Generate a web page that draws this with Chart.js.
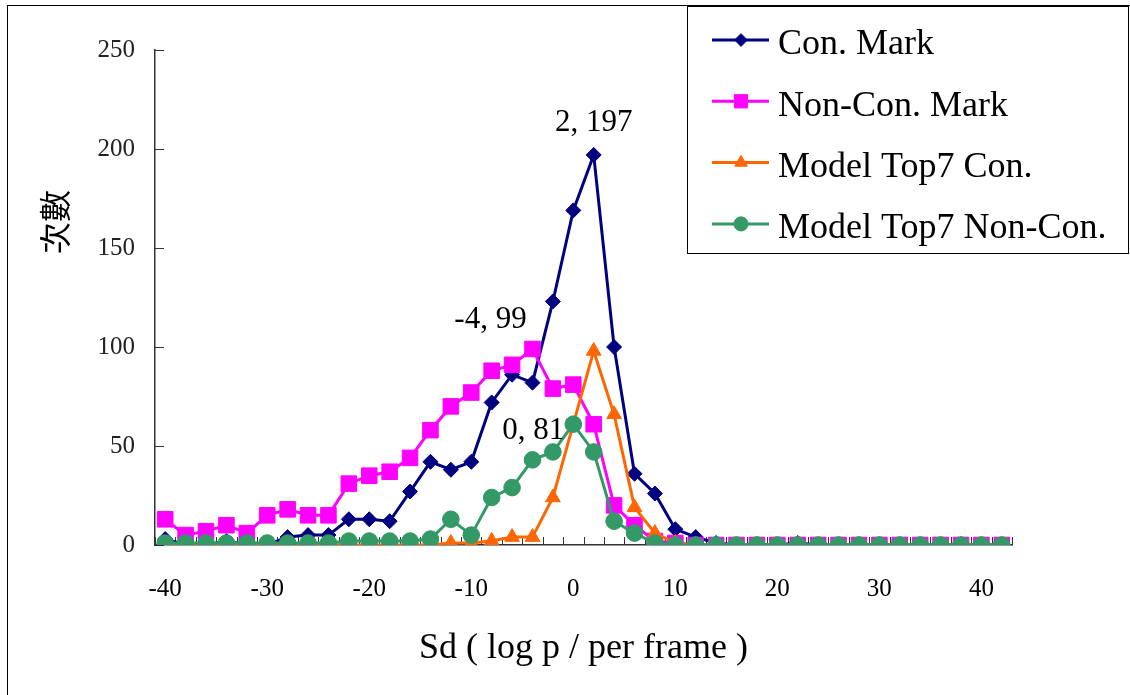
<!DOCTYPE html>
<html>
<head>
<meta charset="utf-8">
<script src="https://cdn.jsdelivr.net/npm/chart.js@4.4.1/dist/chart.umd.min.js"></script>
<style>
  html, body { margin: 0; padding: 0; background: #fff; }
</style>
</head>
<body>
<canvas id="chart" width="1130" height="695"></canvas>
<script>
// Sd bins (log p / per frame), step 2
const sd = [-40, -38, -36, -34, -32, -30, -28, -26, -24, -22, -20, -18, -16, -14, -12, -10,
  -8, -6, -4, -2, 0, 2, 4, 6, 8, 10, 12, 14, 16, 18, 20, 22, 24, 26, 28, 30, 32, 34, 36, 38, 40, 42];

const conMark = [3, 0, 0, 2, 0, 0, 4, 5, 5, 13, 13, 12, 27, 42, 38, 42,
  72, 86, 82, 123, 169, 197, 100, 36, 26, 8, 4, 1, 0, 0, 0, 1, 0, 0, 0, 0, 0, 0, 0, 0, 0, 0];
const nonConMark = [13, 5, 7, 10, 6, 15, 18, 15, 15, 31, 35, 37, 44, 58, 70, 77,
  88, 91, 99, 79, 81, 61, 20, 10, 2, 1, 0, 0, 0, 0, 0, 0, 0, 0, 0, 0, 0, 0, 0, 0, 0, 0];
const modelCon = [0, 0, 0, 0, 0, 0, 0, 0, 0, 0, 0, 0, 0, 0, 1, 1,
  2, 4, 4, 24, 61, 98, 66, 19, 6, 1, 0, 0, 0, 0, 0, 0, 0, 0, 0, 0, 0, 0, 0, 0, 0, 0];
const modelNonCon = [1, 1, 1, 1, 1, 1, 1, 1, 1, 2, 2, 2, 2, 3, 13, 5,
  24, 29, 43, 47, 61, 47, 12, 6, 1, 0, 0, 0, 0, 0, 0, 0, 0, 0, 0, 0, 0, 0, 0, 0, 0, 0];

const yTicks = [0, 50, 100, 150, 200, 250];
const xLabelEvery = 10;

const serif = '"Liberation Serif", "Times New Roman", serif';

function series(label, data, color, style, radius, order) {
  return {
    label, data, order,
    borderColor: color,
    backgroundColor: color,
    borderWidth: 3,
    pointStyle: style,
    pointRadius: radius,
    pointBorderWidth: 1,
    pointBackgroundColor: color,
    pointBorderColor: color,
    tension: 0
  };
}

// data labels "x, y" attached to points
const pointLabels = [
  { ds: 0, x: 2, dx: 0, dy: -32 },
  { ds: 1, x: -4, dx: -42, dy: -29 },
  { ds: 1, x: 0, dx: -40, dy: 46 }
];

const decorations = {
  id: 'decorations',
  beforeDraw(chart) {
    const ctx = chart.ctx;
    ctx.save();
    ctx.fillStyle = '#fff';
    ctx.fillRect(0, 0, chart.width, chart.height);
    ctx.restore();
  },
  beforeDatasetsDraw(chart) {
    const { ctx, chartArea: a, scales: { x, y } } = chart;
    ctx.save();
    ctx.strokeStyle = '#333';
    ctx.lineWidth = 1;
    ctx.beginPath();
    // x ticks between categories, pointing up into the plot
    for (let i = 0; i <= sd.length; i++) {
      const px = Math.round(x.getPixelForValue(i - 0.5)) + 0.5;
      ctx.moveTo(px, a.bottom);
      ctx.lineTo(px, a.bottom - 8);
    }
    // y ticks pointing right
    yTicks.forEach(v => {
      const py = Math.round(y.getPixelForValue(v)) + 0.5;
      ctx.moveTo(a.left, py);
      ctx.lineTo(a.left + 9, py);
    });
    ctx.stroke();
    ctx.restore();
  },
  afterDraw(chart) {
    const { ctx, scales: { x, y } } = chart;
    ctx.save();
    // outer frame
    ctx.strokeStyle = '#000';
    ctx.lineWidth = 1;
    ctx.strokeRect(7.5, 5.5, chart.width, chart.height);

    // y title
    ctx.fillStyle = '#000';
    ctx.font = '32px "Noto Sans CJK TC", "Noto Sans CJK SC", sans-serif';
    ctx.textAlign = 'center';
    ctx.textBaseline = 'middle';
    ctx.save();
    ctx.translate(55, 222);
    ctx.rotate(-Math.PI / 2);
    ctx.fillText('次數', 0, 0);
    ctx.restore();

    // point labels
    ctx.font = '31px ' + serif;
    pointLabels.forEach(l => {
      const i = sd.indexOf(l.x);
      const v = chart.data.datasets[l.ds].data[i];
      const px = x.getPixelForValue(i) + l.dx;
      const py = y.getPixelForValue(v) + l.dy;
      ctx.fillText(sd[i] + ', ' + v, px, py);
    });

    // legend box
    const box = { left: 687.5, top: 6.5, right: 1128.5, bottom: 253.5 };
    ctx.fillStyle = '#fff';
    ctx.fillRect(box.left, box.top, box.right - box.left, box.bottom - box.top);
    ctx.strokeStyle = '#000';
    ctx.lineWidth = 1;
    ctx.strokeRect(box.left, box.top, box.right - box.left, box.bottom - box.top);
    ctx.font = '36px ' + serif;
    ctx.textAlign = 'left';
    chart.data.datasets.forEach((ds, k) => {
      const ry = 40 + k * 61.3;
      ctx.strokeStyle = ds.borderColor;
      ctx.lineWidth = 3;
      ctx.beginPath();
      ctx.moveTo(712, ry);
      ctx.lineTo(769, ry);
      ctx.stroke();
      ctx.fillStyle = ds.backgroundColor;
      ctx.strokeStyle = ds.borderColor;
      ctx.lineWidth = 1;
      Chart.helpers.drawPoint(ctx, { pointStyle: ds.pointStyle, radius: ds.pointRadius * 0.85, borderWidth: 1 }, 741, ry);
      ctx.fillStyle = '#000';
      ctx.fillText(ds.label, 778, ry + 5);
    });
    ctx.restore();
  }
};

new Chart(document.getElementById('chart'), {
  type: 'line',
  data: {
    labels: sd,
    datasets: [
      series('Con. Mark', conMark, '#000080', 'rectRot', 7.5, 4),
      series('Non-Con. Mark', nonConMark, '#FF00FF', 'rect', 11, 3),
      series('Model Top7 Con.', modelCon, '#FF6600', 'triangle', 8.5, 2),
      series('Model Top7 Non-Con.', modelNonCon, '#339966', 'circle', 8.3, 1)
    ]
  },
  options: {
    responsive: false,
    devicePixelRatio: 1,
    animation: false,
    layout: { padding: { top: 50, right: 118, left: 0, bottom: 0 } },
    plugins: { legend: { display: false }, tooltip: { enabled: false } },
    scales: {
      x: {
        type: 'category',
        offset: true,
        grid: { display: false, offset: true },
        border: { display: true, color: '#333', width: 1.5 },
        ticks: {
          autoSkip: false,
          maxRotation: 0,
          padding: 21,
          color: '#000',
          font: { family: serif, size: 25 },
          callback: function (value) {
            const v = sd[value];
            return v % xLabelEvery === 0 ? String(v) : '';
          }
        },
        title: {
          display: true,
          text: 'Sd ( log p / per frame )',
          color: '#000',
          font: { family: serif, size: 36 },
          padding: { top: 0, bottom: 25 }
        },
        afterFit(scale) { scale.height = 150; }
      },
      y: {
        min: 0,
        max: 250,
        grid: { display: false },
        border: { display: true, color: '#333', width: 1.5 },
        ticks: {
          stepSize: 50,
          padding: 12,
          color: '#222',
          font: { family: serif, size: 25 }
        },
        afterFit(scale) { scale.width = 155; }
      }
    }
  },
  plugins: [decorations]
});
</script>
</body>
</html>
